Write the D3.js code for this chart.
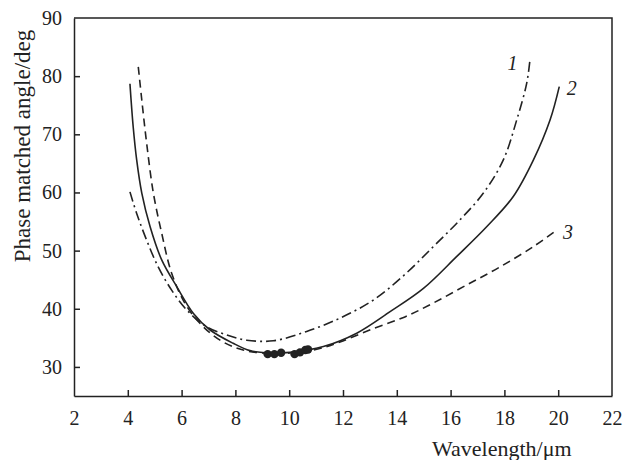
<!DOCTYPE html>
<html>
<head>
<meta charset="utf-8">
<script src="https://cdn.jsdelivr.net/npm/d3@7"></script>
</head>
<body style="margin:0;background:#fff">
<svg id="chart" width="625" height="460"></svg>
<script>
// Curve 1 (dash-dot)
const curve1 = [
  [4.08,60.1],[4.33,56.4],[4.7,51.8],[5.13,47.2],[5.63,43.2],[6.19,39.8],[6.93,36.9],
  [7.68,35.5],[8.42,34.6],[9.41,34.5],[10.65,36.1],[11.89,38.4],[13.13,41.5],[14.3,45.9],
  [15.36,50.7],[16.35,55.3],[17.22,59.9],[17.96,65.6],[18.46,72.5],[18.83,78.8],[18.95,82.8]
];
// Curve 2 (solid)
const curve2 = [
  [4.08,78.7],[4.2,71.3],[4.33,65.6],[4.52,59.9],[4.83,54.1],[5.26,48.4],[5.82,43.8],
  [6.44,39.2],[7.06,36.35],[7.92,34.06],[8.54,32.8],[9.2,32.4],[10.03,32.5],[11.27,33.5],
  [12.51,35.8],[13.75,39.5],[14.99,43.5],[16.23,49.0],[17.34,54.1],[18.33,59.3],[19.08,65.6],
  [19.7,72.5],[20.04,78.2]
];
// Curve 3 (dashed)
const curve3 = [
  [4.39,81.6],[4.52,75.9],[4.7,68.5],[4.95,59.9],[5.26,53.0],[5.63,46.1],[6.13,40.9],
  [6.68,37.5],[7.43,34.6],[8.29,32.9],[9.5,32.3],[10.9,32.9],[11.89,34.3],[13.13,36.6],
  [14.3,38.6],[15.36,41.0],[16.6,44.1],[17.84,47.2],[19.08,50.7],[19.94,53.5]
];
// Experimental points
const points = [
  [9.2,32.2],[9.45,32.2],[9.7,32.45],[10.2,32.2],[10.4,32.5],[10.6,32.9],[10.7,33.0]
];
const xTicks = [2,4,6,8,10,12,14,16,18,20,22];
const yTicks = [30,40,50,60,70,80,90];
const curveLabels = [
  {text:"1", x:18.3, y:82.3},
  {text:"2", x:20.5, y:78.0},
  {text:"3", x:20.36, y:53.2}
];

const FONT = "'Liberation Serif'";
const W = 625, H = 460;
const m = {left:74, top:18, right:13, bottom:64};
const svg = d3.select("#chart");
const x = d3.scaleLinear().domain([2,22]).range([m.left, W-m.right]);
const y = d3.scaleLinear().domain([25,90]).range([H-m.bottom, m.top]);

// frame top/right
svg.append("path")
  .attr("d", `M${x(2)},${y(90)}H${x(22)}V${y(25)}`)
  .attr("fill","none").attr("stroke","#222").attr("stroke-width",1.5);

const gx = svg.append("g").attr("transform",`translate(0,${y(25)})`)
  .call(d3.axisBottom(x).tickValues(xTicks).tickSizeInner(-6).tickSizeOuter(0).tickPadding(15));
const gy = svg.append("g").attr("transform",`translate(${x(2)},0)`)
  .call(d3.axisLeft(y).tickValues(yTicks).tickSizeInner(-6).tickSizeOuter(0).tickPadding(12));
[gx,gy].forEach(g => {
  g.attr("font-family", null).attr("font-size", null);
  g.selectAll(".domain").attr("stroke","#222").attr("stroke-width",1.5);
  g.selectAll(".tick line").attr("stroke","#222").attr("stroke-width",1.5);
  g.selectAll(".tick text").style("font-family",FONT).style("font-size","20px").attr("fill","#222");
});
gx.selectAll(".tick").filter(d => d === 2 || d === 22).select("line").remove();
gy.selectAll(".tick").filter(d => d === 90).select("line").remove();

const line = d3.line().x(d=>x(d[0])).y(d=>y(d[1])).curve(d3.curveCatmullRom.alpha(0.5));
const styles = [
  {data:curve1, dash:"10,4,2,4"},
  {data:curve2, dash:null},
  {data:curve3, dash:"8,5"}
];
styles.forEach(s => {
  svg.append("path").attr("d", line(s.data)).attr("fill","none")
    .attr("stroke","#222").attr("stroke-width",1.6)
    .attr("stroke-dasharray", s.dash);
});

svg.append("g").selectAll("circle").data(points).join("circle")
  .attr("cx",d=>x(d[0])).attr("cy",d=>y(d[1])).attr("r",4.2).attr("fill","#222");

svg.append("g").selectAll("text").data(curveLabels).join("text")
  .attr("x",d=>x(d.x)).attr("y",d=>y(d.y)).attr("dy","0.35em")
  .attr("text-anchor","middle").attr("fill","#222")
  .style("font-family",FONT).style("font-size","20px").style("font-style","italic")
  .text(d=>d.text);

svg.append("text").attr("transform","translate(30,146) rotate(-90)")
  .attr("text-anchor","middle").attr("fill","#222")
  .style("font-family",FONT).style("font-size","23px")
  .text("Phase matched angle/deg");
svg.append("text").attr("x",432).attr("y",456)
  .attr("text-anchor","start").attr("fill","#222")
  .style("font-family",FONT).style("font-size","22px")
  .text("Wavelength/μm");
</script>
</body>
</html>
